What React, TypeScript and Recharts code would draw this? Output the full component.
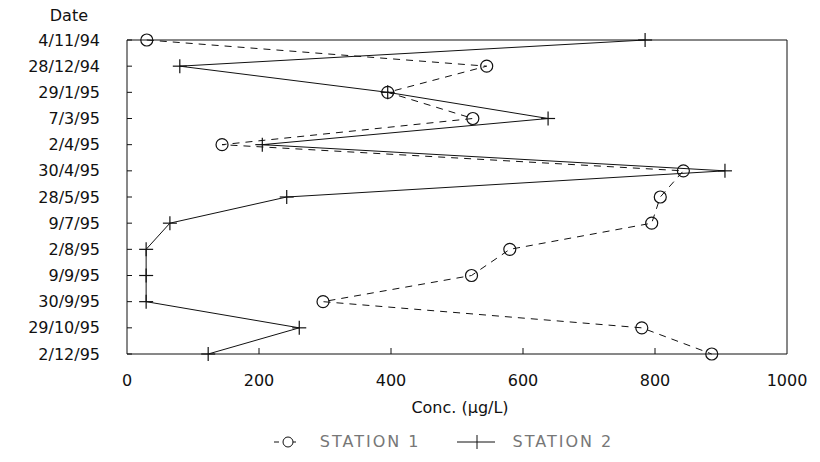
import { LineChart, Line, XAxis, YAxis, Legend, ReferenceLine } from 'recharts';

const dates = [
  '4/11/94', '28/12/94', '29/1/95', '7/3/95', '2/4/95', '30/4/95', '28/5/95',
  '9/7/95', '2/8/95', '9/9/95', '30/9/95', '29/10/95', '2/12/95',
];
const station1 = [30, 545, 395, 524, 144, 843, 808, 795, 580, 522, 297, 780, 886];
const station2 = [785, 80, 395, 638, 205, 906, 242, 65, 29, 29, 29, 261, 123];
const concTicks = [0, 200, 400, 600, 800, 1000];

const data = dates.map((date, i) => ({ date, s1: station1[i], s2: station2[i] }));

const INK = '#111';
const FONT = '"DejaVu Sans", sans-serif';

const YTick = ({ x, y, payload }: any) => (
  <g>
    <line x1={x} y1={y} x2={x + 5} y2={y} stroke={INK} />
    <text x={x - 27} y={y} textAnchor="end" dominantBaseline="central"
      fontFamily={FONT} fontSize={16} fill={INK}>{payload.value}</text>
  </g>
);

const XTick = ({ x, y, payload }: any) => (
  <g>
    {payload.value > 0 && payload.value < 1000 && (
      <line x1={x} y1={y} x2={x} y2={y - 6} stroke={INK} />
    )}
    <text x={x} y={y + 26} textAnchor="middle" dominantBaseline="central"
      fontFamily={FONT} fontSize={16} fill={INK}>{payload.value}</text>
  </g>
);

const CircleDot = ({ cx, cy }: any) =>
  cx == null ? null : <circle cx={cx} cy={cy} r={6} fill="none" stroke={INK} strokeWidth={1.2} />;

const PlusDot = ({ cx, cy }: any) =>
  cx == null ? null : (
    <g stroke={INK} strokeWidth={1.2}>
      <line x1={cx - 7} y1={cy} x2={cx + 7} y2={cy} />
      <line x1={cx} y1={cy - 7} x2={cx} y2={cy + 7} />
    </g>
  );

const LegendContent = () => (
  <div style={{
    display: 'flex', justifyContent: 'center', alignItems: 'center',
    paddingTop: 16, paddingLeft: 100, fontFamily: FONT, fontSize: 16, letterSpacing: 2,
    color: '#777',
  }}>
    <span style={{ display: 'flex', alignItems: 'center', gap: 24 }}>
      <svg width={22} height={14}>
        <line x1={0} y1={7} x2={22} y2={7} stroke={INK} strokeDasharray="5 4" />
        <circle cx={14} cy={7} r={5} fill="white" stroke={INK} />
      </svg>
      STATION 1
    </span>
    <span style={{ display: 'flex', alignItems: 'center', gap: 18, marginLeft: 36 }}>
      <svg width={38} height={14}>
        <line x1={0} y1={7} x2={38} y2={7} stroke={INK} />
        <line x1={20} y1={0} x2={20} y2={14} stroke={INK} />
      </svg>
      STATION 2
    </span>
  </div>
);

export default function App() {
  return (
    <div style={{ margin: -8 }}>
      <LineChart width={820} height={462} data={data} layout="vertical"
        margin={{ top: 40, right: 33, left: 0, bottom: 8 }}>
        <XAxis type="number" domain={[0, 1000]} ticks={concTicks} tickSize={0} tickMargin={0}
          stroke={INK} tick={<XTick />} height={62}
          label={{
            content: ({ viewBox }: any) => (
              <text x={viewBox.x + viewBox.width / 2 + 3} y={viewBox.y + 53} textAnchor="middle"
                dominantBaseline="central" fontFamily={FONT} fontSize={16} fill={INK}>
                Conc. (µg/L)
              </text>
            ),
          }} />
        <YAxis type="category" dataKey="date" width={127} tickSize={0} tickMargin={0}
          stroke={INK} tick={<YTick />} interval={0}
          label={{
            content: ({ viewBox }: any) => (
              <text x={viewBox.x + viewBox.width - 39} y={viewBox.y - 25} textAnchor="end"
                dominantBaseline="central" fontFamily={FONT} fontSize={16} fill={INK}>
                Date
              </text>
            ),
          }} />
        <ReferenceLine y={dates[0]} stroke={INK} />
        <ReferenceLine x={1000} stroke={INK} />
        <Legend verticalAlign="bottom" height={38} content={<LegendContent />} />
        <Line dataKey="s1" name="STATION 1" stroke={INK} strokeWidth={1} strokeDasharray="7 6"
          dot={<CircleDot />} activeDot={false} isAnimationActive={false} />
        <Line dataKey="s2" name="STATION 2" stroke={INK} strokeWidth={1}
          dot={<PlusDot />} activeDot={false} isAnimationActive={false} />
      </LineChart>
    </div>
  );
}
